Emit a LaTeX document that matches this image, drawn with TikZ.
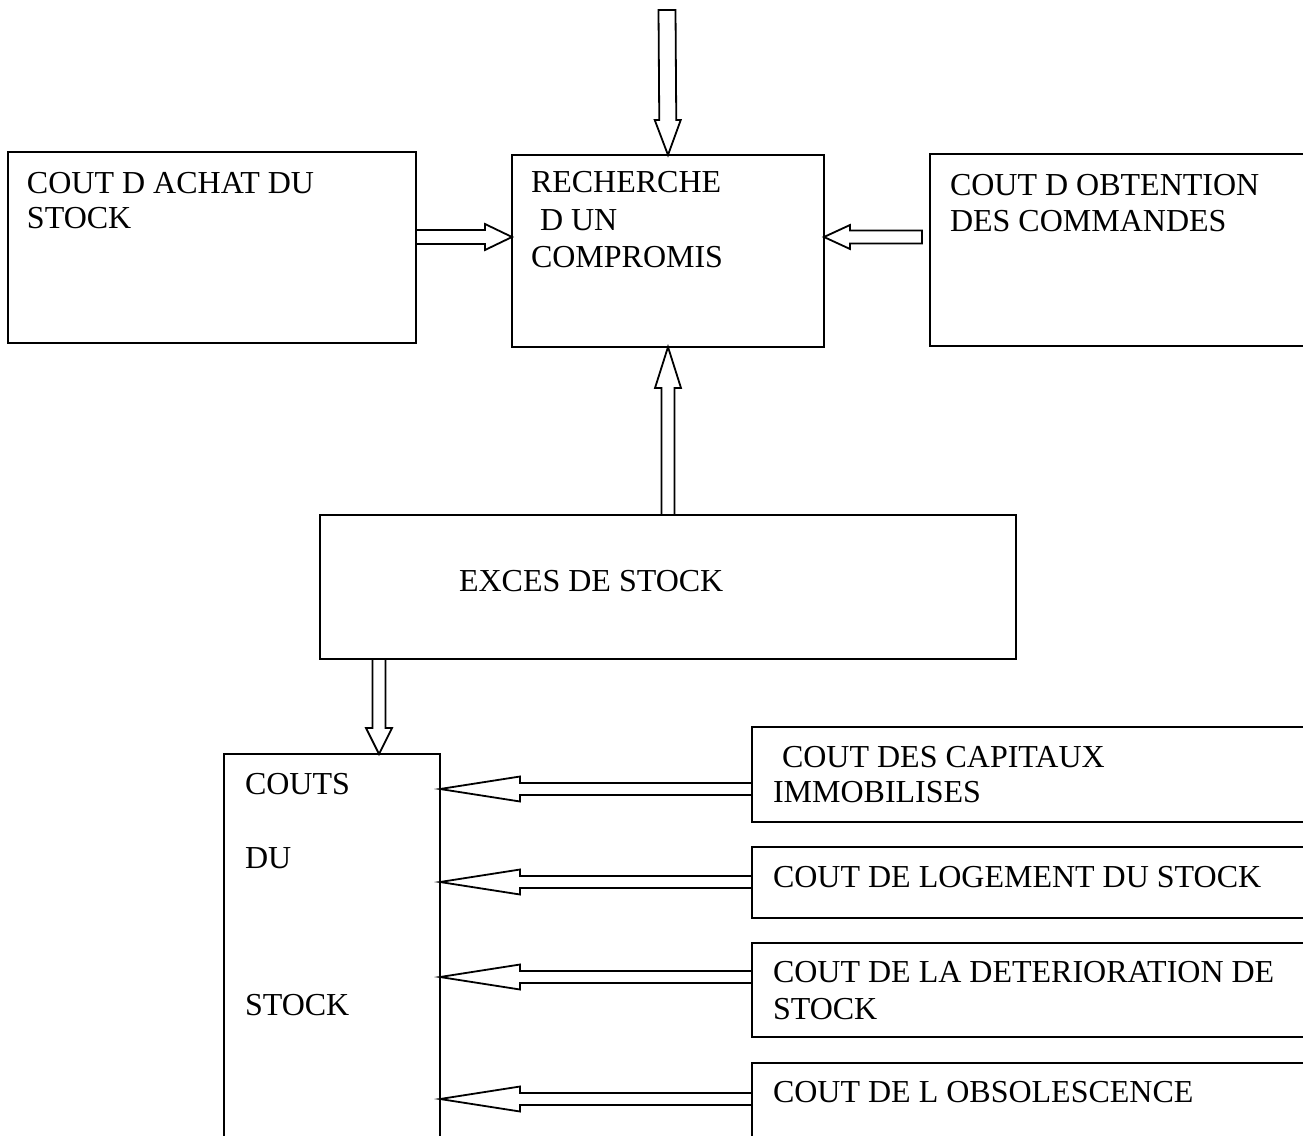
\documentclass[tikz,border=0pt]{standalone}
\usepackage{fontspec}
\setmainfont{Liberation Serif}
\usetikzlibrary{calc}
\newcommand\blockarr[6]{% #1 start, #2 tip, #3 shaft half, #4 head half, #5 head length, #6 name
  \coordinate (#6hb) at ($(#2)!#5!(#1)$);
  \draw[conn] ($(#1)!#3!90:(#2)$) -- ($(#6hb)!#3!-90:(#1)$) -- ($(#6hb)!#4!-90:(#1)$)
    -- (#2) -- ($(#6hb)!#4!90:(#1)$) -- ($(#6hb)!#3!90:(#1)$) -- ($(#1)!#3!-90:(#2)$) -- cycle;
}
\begin{document}
\begin{tikzpicture}[x=1pt,y=-1pt,
  box/.style={draw, line width=1.8pt, outer sep=0pt, inner sep=0pt},
  txt/.style={anchor=base west, inner sep=0pt, outer sep=0pt, font=\fontsize{32}{36}\selectfont},
  conn/.style={draw, line width=1.8pt, fill=white, line join=miter}]
\clip (0,0) rectangle (1303,1135);
\fill[white] (0,0) rectangle (1303,1135);
% boxes
\node[box, minimum width=408, minimum height=191] (A) at (212,247.5) {};
\node[box, minimum width=312, minimum height=192] (R) at (668,251) {};
\node[box, minimum width=500, minimum height=192] (O) at (1180,250) {};
\node[box, minimum width=696, minimum height=144] (E) at (668,587) {};
\node[box, minimum width=216, minimum height=500] (C) at (332,1004) {};
\node[box, minimum width=700, minimum height=95] (K1) at (1102,774.5) {};
\node[box, minimum width=700, minimum height=71] (K2) at (1102,882.5) {};
\node[box, minimum width=700, minimum height=94] (K3) at (1102,990) {};
\node[box, minimum width=700, minimum height=140] (K4) at (1102,1133) {};
% texts
\node[txt] (tA1) at (27,193) {COUT D ACHAT DU};
\node[txt] (tA2) at (27,228) {STOCK};
\node[txt] (tR1) at (531,192) {RECHERCHE};
\node[txt] (tR2) at (540,230) {D UN};
\node[txt] (tR3) at (531,267) {COMPROMIS};
\node[txt] (tO1) at (950,195) {COUT D OBTENTION};
\node[txt] (tO2) at (950,231) {DES COMMANDES};
\node[txt] (tE) at (459,591) {EXCES DE STOCK};
\node[txt] (tC1) at (245,794) {COUTS};
\node[txt] (tC2) at (245,868) {DU};
\node[txt] (tC3) at (245,1015) {STOCK};
\node[txt] (tK11) at (782,767) {COUT DES CAPITAUX};
\node[txt] (tK12) at (773,802) {IMMOBILISES};
\node[txt] (tK2) at (773,887) {COUT DE LOGEMENT DU STOCK};
\node[txt] (tK31) at (773,982) {COUT DE LA DETERIORATION DE};
\node[txt] (tK32) at (773,1019) {STOCK};
\node[txt] (tK4) at (773,1102) {COUT DE L OBSOLESCENCE};
% arrow end points
\coordinate (topin) at (667,10);
\coordinate (yA) at (0,237);
\coordinate (x379) at (379,0);
\coordinate (y1) at (0,789);
\coordinate (y2) at (0,882);
\coordinate (y3) at (0,977);
\coordinate (y4) at (0,1099);
\coordinate (Ostart) at ($(O.west |- yA)+(-8,0)$);
\blockarr{topin}{R.north}{8.5pt}{13pt}{35pt}{a1}
\blockarr{A.east |- yA}{R.west |- yA}{7pt}{13pt}{27pt}{a2}
\blockarr{Ostart}{R.east |- yA}{6.5pt}{12pt}{26pt}{a3}
\blockarr{E.north}{R.south}{6.5pt}{13pt}{41pt}{a4}
\blockarr{E.south -| x379}{C.north -| x379}{6.5pt}{13pt}{26pt}{a5}
\blockarr{K1.west |- y1}{C.east |- y1}{6pt}{12.5pt}{80pt}{b1}
\blockarr{K2.west |- y2}{C.east |- y2}{6pt}{12.5pt}{80pt}{b2}
\blockarr{K3.west |- y3}{C.east |- y3}{6pt}{12.5pt}{80pt}{b3}
\blockarr{K4.west |- y4}{C.east |- y4}{6pt}{12.5pt}{80pt}{b4}
\end{tikzpicture}
\end{document}
